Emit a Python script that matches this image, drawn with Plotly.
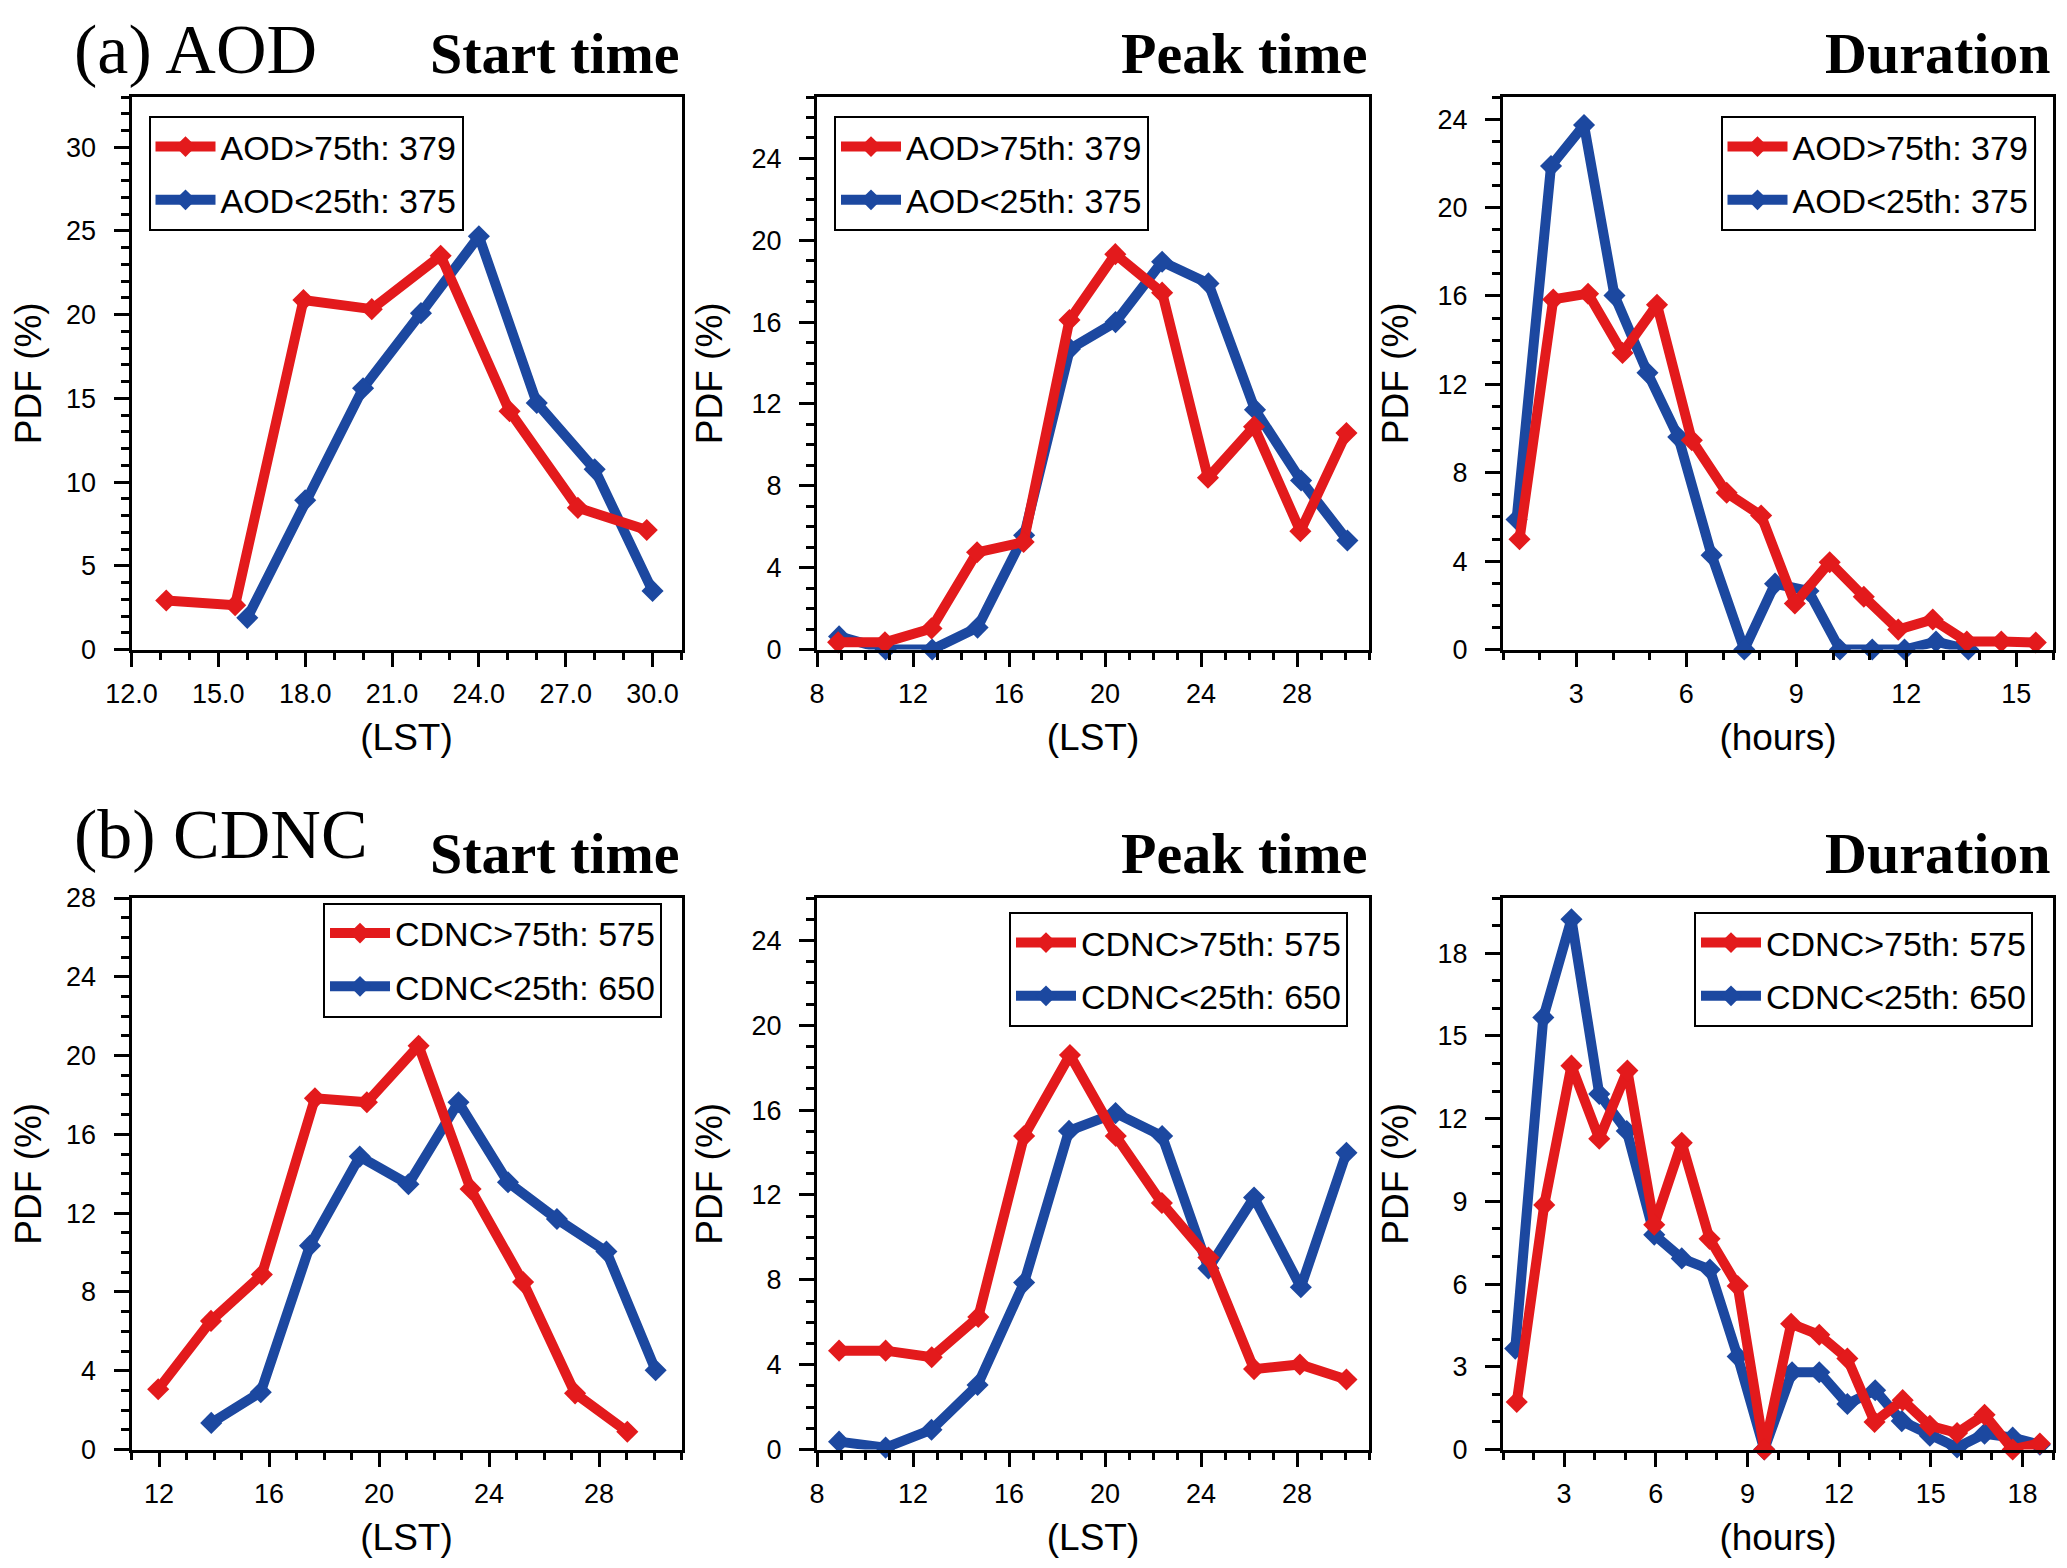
import plotly.graph_objects as go
from plotly.subplots import make_subplots

# ---------------- data ----------------
RED = "#E31A1C"
BLUE = "#1C48A0"

# (a) AOD
aod_start_hi_x = [13.2, 15.58, 17.94, 20.3, 22.68, 25.06, 27.42, 29.8]
aod_start_hi_y = [2.93, 2.65, 20.87, 20.33, 23.52, 14.23, 8.46, 7.14]
aod_start_lo_x = [16.0, 18.0, 20.0, 22.0, 24.0, 26.0, 28.0, 30.0]
aod_start_lo_y = [1.89, 8.91, 15.6, 20.09, 24.68, 14.73, 10.76, 3.5]

aod_peak_hi_x = [8.88, 10.83, 12.77, 14.67, 16.61, 18.52, 20.43, 22.38, 24.29, 26.21, 28.14, 30.06]
aod_peak_hi_y = [0.35, 0.35, 1.03, 4.75, 5.25, 16.1, 19.32, 17.44, 8.39, 10.89, 5.78, 10.58]
aod_peak_lo_x = [8.92, 10.86, 12.8, 14.69, 16.63, 18.54, 20.44, 22.38, 24.31, 26.25, 28.17, 30.1]
aod_peak_lo_y = [0.64, 0.0, 0.0, 1.07, 5.58, 14.69, 16.0, 18.95, 17.89, 11.72, 8.26, 5.33]

aod_dur_hi_x = [1.45, 2.37, 3.32, 4.26, 5.2, 6.15, 7.1, 8.04, 8.96, 9.91, 10.84, 11.78, 12.72, 13.65, 14.59, 15.53]
aod_dur_hi_y = [4.99, 15.84, 16.1, 13.42, 15.6, 9.47, 7.09, 6.06, 2.08, 3.95, 2.39, 0.9, 1.36, 0.36, 0.36, 0.32]
aod_dur_lo_x = [1.37, 2.31, 3.21, 4.04, 4.94, 5.78, 6.69, 7.58, 8.42, 9.33, 10.19, 11.07, 11.95, 12.81, 13.69]
aod_dur_lo_y = [5.88, 21.88, 23.73, 16.02, 12.52, 9.61, 4.27, 0.0, 2.98, 2.65, 0.0, 0.0, 0.0, 0.36, 0.0]

# (b) CDNC
cdnc_start_hi_x = [11.97, 13.89, 15.74, 17.67, 19.56, 21.44, 23.33, 25.24, 27.13, 29.03]
cdnc_start_hi_y = [3.06, 6.53, 8.88, 17.83, 17.63, 20.5, 13.23, 8.5, 2.85, 0.9]
cdnc_start_lo_x = [13.9, 15.7, 17.49, 19.3, 21.07, 22.89, 24.69, 26.47, 28.27, 30.06]
cdnc_start_lo_y = [1.35, 2.91, 10.35, 14.87, 13.47, 17.63, 13.57, 11.7, 10.05, 4.02]

cdnc_peak_hi_x = [8.92, 10.86, 12.78, 14.72, 16.63, 18.54, 20.45, 22.37, 24.31, 26.21, 28.12, 30.06]
cdnc_peak_hi_y = [4.66, 4.66, 4.35, 6.25, 14.78, 18.6, 14.78, 11.62, 9.05, 3.79, 4.01, 3.3]
cdnc_peak_lo_x = [8.92, 10.86, 12.77, 14.69, 16.63, 18.5, 20.44, 22.38, 24.31, 26.21, 28.16, 30.06]
cdnc_peak_lo_y = [0.37, 0.09, 0.93, 3.04, 7.87, 15.02, 15.86, 14.78, 8.54, 11.88, 7.65, 13.99]

cdnc_dur_hi_x = [1.45, 2.35, 3.24, 4.15, 5.07, 5.95, 6.85, 7.76, 8.68, 9.55, 10.43, 11.35, 12.27, 13.16,
                 14.08, 14.97, 15.86, 16.76, 17.68, 18.57]
cdnc_dur_hi_y = [1.72, 8.87, 13.92, 11.27, 13.74, 8.15, 11.12, 7.64, 5.93, 0.0, 4.56, 4.16, 3.3, 1.0,
                 1.79, 0.86, 0.6, 1.26, 0.0, 0.22]
cdnc_dur_lo_x = [1.4, 2.32, 3.24, 4.15, 5.05, 5.95, 6.85, 7.77, 8.68, 9.55, 10.46, 11.35, 12.27, 13.18,
                 14.05, 14.97, 15.86, 16.76, 17.68, 18.57]
cdnc_dur_lo_y = [3.66, 15.67, 19.23, 12.89, 11.55, 7.79, 6.93, 6.53, 3.37, 0.0, 2.8, 2.8, 1.65, 2.15,
                 1.03, 0.5, 0.07, 0.57, 0.43, 0.17]

aod_names = ["AOD>75th: 379", "AOD<25th: 375"]
cdnc_names = ["CDNC>75th: 575", "CDNC<25th: 650"]
row_labels = ["(a) AOD", "(b) CDNC"]
col_titles = ["Start time", "Peak time", "Duration"]
x_titles = ["(LST)", "(LST)", "(hours)"]
y_title = "PDF (%)"

# axis settings per panel (row-major)
x_ranges = [[12, 31], [8, 31], [1, 16], [11, 31], [8, 31], [1, 19]]
y_ranges = [[0, 33], [0, 27], [0, 25], [0, 28], [0, 26], [0, 20]]
x_dticks = [3, 4, 3, 4, 4, 3]
y_dticks = [5, 4, 4, 4, 4, 3]
x_formats = [".1f", "d", "d", "d", "d", "d"]

panels = [
    (aod_start_hi_x, aod_start_hi_y, aod_start_lo_x, aod_start_lo_y, aod_names),
    (aod_peak_hi_x, aod_peak_hi_y, aod_peak_lo_x, aod_peak_lo_y, aod_names),
    (aod_dur_hi_x, aod_dur_hi_y, aod_dur_lo_x, aod_dur_lo_y, aod_names),
    (cdnc_start_hi_x, cdnc_start_hi_y, cdnc_start_lo_x, cdnc_start_lo_y, cdnc_names),
    (cdnc_peak_hi_x, cdnc_peak_hi_y, cdnc_peak_lo_x, cdnc_peak_lo_y, cdnc_names),
    (cdnc_dur_hi_x, cdnc_dur_hi_y, cdnc_dur_lo_x, cdnc_dur_lo_y, cdnc_names),
]

# ---------------- layout geometry (page pixels) ----------------
PAGE_W, PAGE_H = 2067, 1568
OFF = 8                      # default body margin of the html page
W, H = PAGE_W - OFF, PAGE_H - OFF
col_px = [(131.5, 681.5), (817, 1369), (1503, 2053)]
row_px = [(97, 649.5), (898, 1449.5)]
legend_pos = [(148.5, 116, "left"), (834, 116, "left"), (2035.5, 116, "right"),
              (662, 902.5, "right"), (1348, 912, "right"), (2033, 912, "right")]
row_label_y = [49, 834]


def fx(p):
    return (p - OFF) / W


def fy(p):
    return 1 - (p - OFF) / H


SANS = "Liberation Sans, Arial, sans-serif"
SERIF = "Liberation Serif, Times New Roman, serif"

fig = make_subplots(rows=2, cols=3)

for i, (hx, hy, lx, ly, names) in enumerate(panels):
    r, c = i // 3 + 1, i % 3 + 1
    leg = "legend" if i == 0 else f"legend{i+1}"
    fig.add_trace(go.Scatter(x=lx, y=ly, mode="lines+markers", name=names[1],
                             line=dict(color=BLUE, width=10),
                             marker=dict(symbol="diamond", size=17, color=BLUE),
                             cliponaxis=False, legend=leg, legendrank=2,
                             legendgroup=f"p{i}lo"), row=r, col=c)
    fig.add_trace(go.Scatter(x=hx, y=hy, mode="lines+markers", name=names[0],
                             line=dict(color=RED, width=10),
                             marker=dict(symbol="diamond", size=17, color=RED),
                             cliponaxis=False, legend=leg, legendrank=1,
                             legendgroup=f"p{i}hi"), row=r, col=c)

layout_updates = {}
for i in range(6):
    r, c = i // 3, i % 3
    n = "" if i == 0 else str(i + 1)
    x0, x1 = col_px[c]
    y0, y1 = row_px[r]
    layout_updates[f"xaxis{n}"] = dict(
        domain=[fx(x0), fx(x1)], range=x_ranges[i], dtick=x_dticks[i], tick0=0,
        tickformat=x_formats[i], showgrid=False, zeroline=False, automargin=False,
        showline=True, linecolor="black", linewidth=3, mirror=True,
        ticks="outside", ticklen=14, tickwidth=3, tickcolor="black",
        ticklabelstandoff=4,
        minor=dict(dtick=1, tick0=0, ticks="outside", ticklen=7, tickwidth=2.5, tickcolor="black"),
        tickfont=dict(family=SANS, size=27, color="black"),
        title=dict(text=x_titles[c], font=dict(family=SANS, size=37, color="black"), standoff=17),
    )
    layout_updates[f"yaxis{n}"] = dict(
        domain=[fy(y1), fy(y0)], range=y_ranges[i], dtick=y_dticks[i], tick0=0,
        showgrid=False, zeroline=False, automargin=False,
        showline=True, linecolor="black", linewidth=3, mirror=True,
        ticks="outside", ticklen=15, tickwidth=3, tickcolor="black",
        ticklabelstandoff=12,
        minor=dict(dtick=1, tick0=0, ticks="outside", ticklen=8, tickwidth=2.5, tickcolor="black"),
        tickfont=dict(family=SANS, size=27, color="black"),
        title=dict(text=y_title, font=dict(family=SANS, size=37, color="black"), standoff=18),
    )
    lx_px, ly_px, xa = legend_pos[i]
    layout_updates["legend" if i == 0 else f"legend{i+1}"] = dict(
        x=fx(lx_px), y=fy(ly_px), xanchor=xa, yanchor="top",
        bgcolor="white", bordercolor="black", borderwidth=2,
        font=dict(family=SANS, size=34, color="black"),
        tracegroupgap=6, traceorder="grouped", itemwidth=60,
    )

fig.update_layout(**layout_updates)

annotations = []
for r in range(2):
    top = row_px[r][0]
    annotations.append(dict(text=row_labels[r], x=fx(72), y=fy(row_label_y[r]),
                            xref="paper", yref="paper", xanchor="left", yanchor="middle",
                            showarrow=False, font=dict(family=SERIF, size=70, color="black")))
    for c in range(3):
        annotations.append(dict(text=f"<b>{col_titles[c]}</b>", x=fx(col_px[c][1]), y=fy(top - 44),
                                xref="paper", yref="paper", xanchor="right", yanchor="middle",
                                showarrow=False, font=dict(family=SERIF, size=58, color="black")))

fig.update_layout(
    width=W, height=H, margin=dict(l=0, r=0, t=0, b=0, autoexpand=False),
    paper_bgcolor="white", plot_bgcolor="white",
    annotations=annotations, showlegend=True,
)

fig.write_html("out.html")
